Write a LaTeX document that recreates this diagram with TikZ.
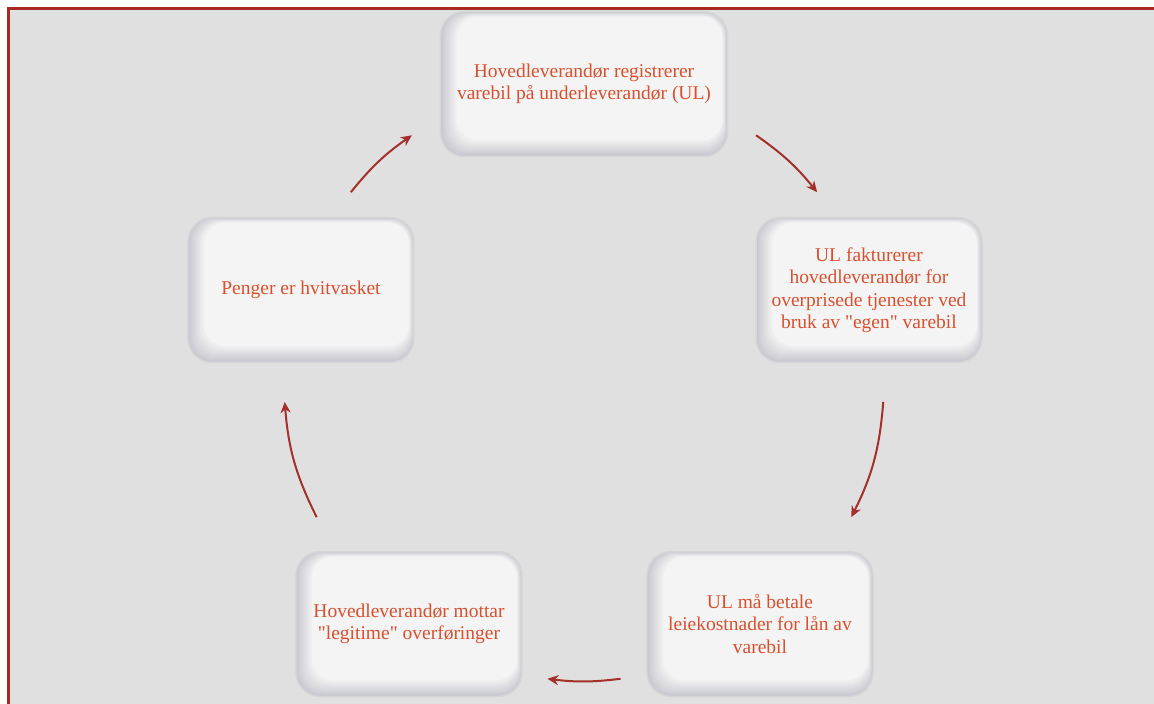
\documentclass[tikz,border=0pt]{standalone}
\usepackage{fontspec}
\newfontfamily\boxfont{Liberation Serif}
\usepackage{tikz}
\usetikzlibrary{arrows.meta, calc}

\definecolor{pagegray}{HTML}{E0E0E0}
\definecolor{framered}{HTML}{A8291F}
\definecolor{arrowred}{HTML}{A3302A}
\definecolor{labelred}{HTML}{D8502E}
\definecolor{boxface}{HTML}{F4F4F4}
\definecolor{boxedge}{HTML}{C8C8D0}
\definecolor{boxline}{HTML}{D6D6D6}

\tikzset{
  stepbox/.style={rectangle, rounded corners=24pt, minimum width=226pt,
    minimum height=145pt, draw=boxline, line width=1.5pt, text=labelred,
    align=center, font=\boxfont\fontsize{19.5}{22.5}\selectfont,
    path picture={
      \fill[boxedge] (path picture bounding box.south west)
        rectangle (path picture bounding box.north east);
      \foreach \k [evaluate=\k as \pc using int(\k*12.5)] in {1,...,8}
        \fill[boxface!\pc!boxedge, rounded corners=22pt]
          ([shift={(\k*2pt,\k*2pt)}]path picture bounding box.south west)
          rectangle ([shift={(-\k*0.6pt,-\k*0.6pt)}]path picture bounding box.north east);
    }},
  flowarrow/.style={arrowred, line width=2pt, -{Stealth[length=11pt, width=10pt, inset=3.5pt]}}
}

\begin{document}
\begin{tikzpicture}[x=1pt, y=1pt]
    \useasboundingbox (-584,-323) rectangle (570,381);
    % page and frame
    \fill[white] (-584,-323) rectangle (570,381);
    \fill[pagegray] (-575,-323) rectangle (570,372);
    \draw[framered, line width=3pt] (-575,-323) -- (-575,372) -- (570,372);

    % the five steps
    \node[stepbox, minimum width=287pt] (reg) at (0,297)
      {Hovedleverand\o r registrerer\\varebil p\aa{} underleverand\o r (UL)};
    \node[stepbox] (fakt) at (285,91)
      {UL fakturerer\\hovedleverand\o r for\\overprisede tjenester ved\\bruk av "egen" varebil};
    \node[stepbox] (leie) at (176,-243)
      {UL m\aa{} betale\\leiekostnader for l\aa n av\\varebil};
    \node[stepbox] (mott) at (-175,-243)
      {Hovedleverand\o r mottar\\"legitime" overf\o ringer};
    \node[stepbox] (hvit) at (-283,91) {Penger er hvitvasket};

    % arrow ends on the circle
    \coordinate (s1) at (55:300);   \coordinate (e1) at (39:300);
    \coordinate (s2) at (-4:300);   \coordinate (e2) at (-27:300);
    \coordinate (s3) at (-83:300);  \coordinate (e3) at (-97:300);
    \coordinate (s4) at (-153:300); \coordinate (e4) at (-176:300);
    \coordinate (s5) at (141:300);  \coordinate (e5) at (125:300);

    \draw[flowarrow] (s1) to[bend left=8] (e1);
    \draw[flowarrow] (s2) to[bend left=11] (e2);
    \draw[flowarrow] (s3) to[bend left=7] (e3);
    \draw[flowarrow] (s4) to[bend left=11] (e4);
    \draw[flowarrow] (s5) to[bend left=8] (e5);
  \end{tikzpicture}
\end{document}
